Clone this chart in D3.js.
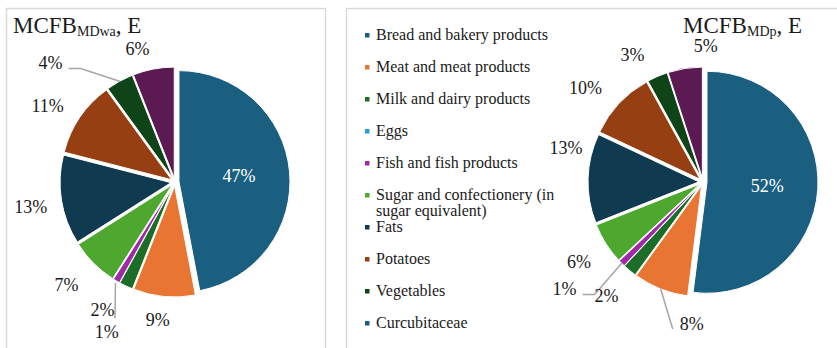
<!DOCTYPE html>
<html>
<head>
<meta charset="utf-8">
<script src="https://cdn.jsdelivr.net/npm/d3@7"></script>
<style>
  body { margin: 0; background: #fff; }
</style>
</head>
<body>
<svg id="chart" width="837" height="348" style="font-family:'Liberation Serif','Times New Roman',serif"></svg>
<script>
// Food groups, in slice order (clockwise from 12 o'clock)
const categories = [
  "Bread and bakery products",
  "Meat and meat products",
  "Milk and dairy products",
  "Eggs",
  "Fish and fish products",
  "Sugar and confectionery (in sugar equivalent)",
  "Fats",
  "Potatoes",
  "Vegetables",
  "Curcubitaceae"
];
// Share of energy, %
const valuesMDwa = [47, 9, 2, 0, 1, 7, 13, 11, 4, 6];
const valuesMDp  = [52, 8, 2, 0, 1, 6, 13, 10, 3, 5];

const sliceColors = ["#1a5f80", "#e97533", "#1c6d27", "#1fa2d6", "#a02aa6",
                     "#4ea72e", "#0f3a4f", "#953f13", "#0f4318", "#5c1a53"];
const legendColors = ["#1a5f80", "#e97533", "#1c6d27", "#1fa2d6", "#a02aa6",
                      "#4ea72e", "#0f3a4f", "#953f13", "#0f4318", "#1a5f80"];

const SERIF = "'Liberation Serif', 'Times New Roman', serif";
const svg = d3.select("#chart");
const FONT_LABEL = 18;
const EXPLODE = 4;
const LABEL_DIST = 142;

// Panel frames
svg.append("rect").attr("x", 6.5).attr("y", 8.5).attr("width", 319).attr("height", 400)
  .attr("fill", "none").attr("stroke", "#d9d9d9").attr("stroke-width", 1.5);
svg.append("rect").attr("x", 346.5).attr("y", 8.5).attr("width", 520).attr("height", 400)
  .attr("fill", "none").attr("stroke", "#d9d9d9").attr("stroke-width", 1.5);

// Per-panel layout: centre, radius, title and label nudges (px, relative to the
// default spot on the slice bisector)
const panels = [
  {
    values: valuesMDwa, cx: 175, cy: 182, r: 111,
    title: { x: 13, sub: "MDwa" },
    nudge: [[0,0],[-4,-4],[-12,-1],[0,0],[4,27],[-8,2],[-4,2],[-10,3.5],[-56,5],[-11,6.5]],
    leaders: { 8: "elbow", 4: "down" }
  },
  {
    values: valuesMDp, cx: 703, cy: 182, r: 111,
    title: { x: 683, sub: "MDp" },
    nudge: [[0,0],[41,10],[-6,4],[0,0],[-38,6],[-4,4],[5,-30],[-14,3],[-14,3],[25,4]],
    leaders: { 1: "diag", 4: "elbow" }
  }
];

const pie = d3.pie().sort(null).value(d => d).startAngle(0).endAngle(2 * Math.PI);

panels.forEach(p => {
  const g = svg.append("g");
  const arc = d3.arc().innerRadius(0).outerRadius(p.r);
  const arcs = pie(p.values);
  const mid = d => (d.startAngle + d.endAngle) / 2;
  const polar = (a, dist) => [p.cx + Math.sin(a) * dist, p.cy - Math.cos(a) * dist];

  // Exploded slices
  g.selectAll("path.slice")
    .data(arcs.filter(d => d.value > 0))
    .join("path")
    .attr("class", "slice")
    .attr("d", arc)
    .attr("transform", d => {
      const [x, y] = polar(mid(d), EXPLODE);
      return `translate(${x},${y})`;
    })
    .attr("fill", d => sliceColors[d.index])
    .attr("stroke", "#fff")
    .attr("stroke-width", 1);

  // Label positions
  const labels = arcs.filter(d => d.value > 0).map(d => {
    const a = mid(d);
    const inside = d.value >= 40;
    let [x, y] = inside ? polar(a, p.r * 0.58) : polar(a, LABEL_DIST);
    const n = p.nudge[d.index];
    if (!inside) { x += n[0]; y += n[1]; }
    return { d, a, x, y, inside };
  });

  // Leader lines
  labels.forEach(l => {
    const kind = p.leaders[l.d.index];
    if (!kind) return;
    const [ax, ay] = polar(l.a, p.r + EXPLODE);
    let pts;
    if (kind === "elbow") pts = [[ax, ay], [l.x + 30, l.y + 6], [l.x + 18, l.y + 6]];
    else if (kind === "down") pts = [[ax - 1, ay + 2], [ax - 1.5, l.y - 13]];
    else pts = [[ax, ay], [l.x - 19, l.y + 5]];
    g.append("path")
      .attr("d", d3.line()(pts))
      .attr("fill", "none")
      .attr("stroke", "#a6a6a6")
      .attr("stroke-width", 1.5);
  });

  g.selectAll("text.lbl")
    .data(labels)
    .join("text")
    .attr("class", "lbl")
    .style("font-family", SERIF)
    .attr("x", l => l.x)
    .attr("y", l => l.y)
    .attr("dy", "0.35em")
    .attr("text-anchor", "middle")
    .attr("font-size", FONT_LABEL)
    .attr("fill", l => l.inside ? "#ffffff" : "#1a1a1a")
    .text(l => d3.format(".0%")(l.d.value / 100));

  // Title with subscript
  const t = g.append("text")
    .style("font-family", SERIF)
    .attr("x", p.title.x).attr("y", 33)
    .attr("font-size", 23).attr("fill", "#1a1a1a");
  t.append("tspan").text("MCFB");
  t.append("tspan").attr("font-size", 14).attr("dy", 3).text(p.title.sub);
  t.append("tspan").attr("dy", -3).text(", E");
});

// Legend
const legend = svg.append("g");
const LEG_X = 376, LEG_Y0 = 40, LEG_STEP = 32, LEG_WRAP = 182;
categories.forEach((name, i) => {
  const y = LEG_Y0 + i * LEG_STEP;
  legend.append("rect")
    .attr("x", 365).attr("y", y - 7).attr("width", 4.5).attr("height", 4.5)
    .attr("fill", legendColors[i]);
  const txt = legend.append("text")
    .style("font-family", SERIF)
    .attr("x", LEG_X).attr("y", y)
    .attr("font-size", 16).attr("fill", "#1a1a1a");
  // simple word wrap
  const words = name.split(" ");
  let line = [], tspan = txt.append("tspan").attr("x", LEG_X);
  words.forEach(w => {
    line.push(w);
    tspan.text(line.join(" "));
    if (tspan.node().getComputedTextLength() > LEG_WRAP && line.length > 1) {
      line.pop();
      tspan.text(line.join(" "));
      line = [w];
      tspan = txt.append("tspan").attr("x", LEG_X).attr("dy", 16).text(w);
    }
  });
});
</script>
</body>
</html>
